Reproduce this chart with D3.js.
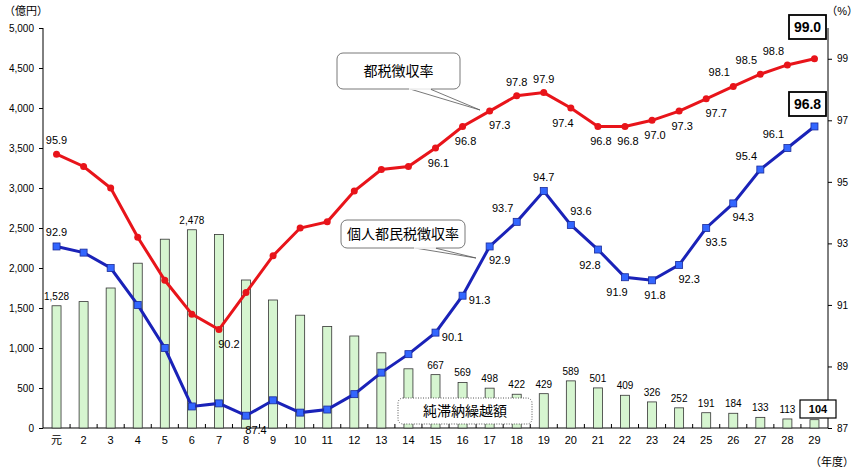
<!DOCTYPE html><html><head><meta charset="utf-8"><script src="https://cdn.jsdelivr.net/npm/d3@7"></script>
<style>body{margin:0;background:#fff}text{font-family:"Liberation Sans","Noto Sans CJK JP",sans-serif}</style></head><body><svg id="c" width="862" height="476"></svg>
<script>
const years=["元","2","3","4","5","6","7","8","9","10","11","12","13","14","15","16","17","18","19","20","21","22","23","24","25","26","27","28","29"];
const arrears=[1528,1580,1750,2060,2360,2478,2420,1850,1600,1410,1270,1150,940,740,667,569,498,422,429,589,501,409,326,252,191,184,133,113,104];
const metroRate=[95.9,95.5,94.8,93.2,91.8,90.7,90.2,91.4,92.6,93.5,93.7,94.7,95.4,95.5,96.1,96.8,97.3,97.8,97.9,97.4,96.8,96.8,97.0,97.3,97.7,98.1,98.5,98.8,99.0];
const residentRate=[92.9,92.7,92.2,91.0,89.6,87.7,87.8,87.4,87.9,87.5,87.6,88.1,88.8,89.4,90.1,91.3,92.9,93.7,94.7,93.6,92.8,91.9,91.8,92.3,93.5,94.3,95.4,96.1,96.8];
const leftTicks=[0,500,1000,1500,2000,2500,3000,3500,4000,4500,5000];
const rightTicks=[87,89,91,93,95,97,99];
const barLabelIdx=[0,5,14,15,16,17,18,19,20,21,22,23,24,25,26,27];
const metroLabelPos={0:"a",6:"br",14:"b",15:"b",16:"br",17:"a",18:"a",19:"bl",20:"b",21:"b",22:"b",23:"b",24:"br",25:"al",26:"al",27:"al"};
const residentLabelPos={0:"a",7:"br",14:"r",15:"r",16:"br",17:"al",18:"a",19:"ar",20:"bl",21:"bl",22:"b",23:"br",24:"br",25:"br",26:"al",27:"al"};

const svg=d3.select("#c");
const x=d3.scaleBand().domain(years).range([43,828]);
const yL=d3.scaleLinear().domain([0,5000]).range([428,28]);
const yR=d3.scaleLinear().domain([87,100]).range([428,28]);
const cx=i=>x(years[i])+x.bandwidth()/2;

svg.append("g").attr("transform","translate(43,0)").call(d3.axisLeft(yL).tickValues(leftTicks).tickFormat(d3.format(",")).tickSize(4))
 .call(g=>{g.select(".domain").attr("d","M0,28V428");g.selectAll("text").attr("x",-9).style("font-size","10px");});
svg.append("g").attr("transform","translate(828,0)").call(d3.axisRight(yR).tickValues(rightTicks).tickSize(4))
 .call(g=>{g.select(".domain").attr("d","M0,28V428");g.selectAll("text").attr("x",9).style("font-size","10px");});
svg.append("g").attr("transform","translate(0,428)").call(d3.axisBottom(x).tickSize(0))
 .call(g=>{g.select(".domain").attr("d","M43,0H828");g.selectAll("text").attr("dy","1.2em").style("font-size","11px");});
svg.append("g").selectAll("line").data(years.slice(1)).join("line").attr("x1",d=>x(d)).attr("x2",d=>x(d)).attr("y1",428).attr("y2",424).attr("stroke","#000");
svg.append("text").attr("x",4).attr("y",15).text("（億円）").style("font-size","11px");
svg.append("text").attr("x",858).attr("y",15).attr("text-anchor","end").text("（%）").style("font-size","11px");
svg.append("text").attr("x",810).attr("y",466).text("（年度）").style("font-size","11px");

svg.append("g").selectAll("rect").data(arrears).join("rect")
 .attr("x",(d,i)=>cx(i)-4.5).attr("width",9).attr("y",d=>yL(d)).attr("height",d=>428-yL(d))
 .attr("fill","#d6f5d0").attr("stroke","#333").attr("stroke-width",0.8);
svg.append("g").selectAll("text").data(barLabelIdx).join("text")
 .attr("x",i=>cx(i)).attr("y",i=>yL(arrears[i])-6).attr("text-anchor","middle").style("font-size","10px")
 .text(i=>d3.format(",")(arrears[i]));
svg.append("rect").attr("x",800).attr("y",400).attr("width",36).attr("height",18).attr("fill","#fff").attr("stroke","#000").attr("stroke-width",1.2);
svg.append("text").attr("x",818).attr("y",413).attr("text-anchor","middle").style("font-size","11px").style("font-weight","bold").text(arrears[28]);

function series(vals,color,shape,pos,boxY){
 const line=d3.line().x((d,i)=>cx(i)).y(d=>yR(d));
 svg.append("path").datum(vals).attr("d",line).attr("fill","none").attr("stroke",color).attr("stroke-width",3);
 const g=svg.append("g");
 if(shape==="c") g.selectAll("circle").data(vals).join("circle").attr("cx",(d,i)=>cx(i)).attr("cy",d=>yR(d)).attr("r",3.5).attr("fill",color);
 else g.selectAll("rect").data(vals).join("rect").attr("x",(d,i)=>cx(i)-3.5).attr("y",d=>yR(d)-3.5).attr("width",7).attr("height",7).attr("fill","#3366ff").attr("stroke","#1a2a99").attr("stroke-width",0.8);
 const off={a:[0,-10],b:[3,19],br:[10,18],bl:[-8,19],al:[-14,-10],ar:[10,-10],r:[17,8]};
 svg.append("g").selectAll("text").data(Object.keys(pos).map(Number)).join("text")
  .attr("x",i=>cx(i)+off[pos[i]][0]).attr("y",i=>yR(vals[i])+off[pos[i]][1]).attr("text-anchor","middle").style("font-size","11px")
  .text(i=>vals[i].toFixed(1));
 const last=vals.length-1;
 svg.append("rect").attr("x",789).attr("y",boxY).attr("width",37).attr("height",24).attr("fill","#fff").attr("stroke","#000").attr("stroke-width",1.8);
 svg.append("text").attr("x",807.5).attr("y",boxY+17).attr("text-anchor","middle").style("font-size","14px").style("font-weight","bold").text(vals[last].toFixed(1));
}
series(metroRate,"#e8141a","c",metroLabelPos,15);
series(residentRate,"#1a22b8","s",residentLabelPos,92);

function callout(x0,y0,w,h,tx,ty,label,dash){
 const g=svg.append("g");
 g.append("path").attr("d",`M${x0+w-50},${y0+h} L${tx},${ty} L${x0+w-30},${y0+h}`).attr("fill","#fff").attr("stroke","#555").attr("stroke-width",0.8);
 g.append("rect").attr("x",x0).attr("y",y0).attr("width",w).attr("height",h).attr("rx",6).attr("fill","#fff").attr("stroke","#555").attr("stroke-width",0.8).attr("stroke-dasharray",dash||null);
 g.append("path").attr("d",`M${x0+w-51},${y0+h} L${x0+w-29},${y0+h}`).attr("stroke","#fff").attr("stroke-width",1.6);
 g.append("text").attr("x",x0+w/2).attr("y",y0+h/2+5).attr("text-anchor","middle").style("font-size","14px").text(label);
}
callout(337,53,123,36,480,110,"都税徴収率");
callout(341,220,124,28,476,258,"個人都民税徴収率");
svg.append("rect").attr("x",398).attr("y",398).attr("width",134).attr("height",26).attr("rx",5).attr("fill","#fff").attr("stroke","#555").attr("stroke-dasharray","1,1.5");
svg.append("text").attr("x",465).attr("y",416).attr("text-anchor","middle").style("font-size","14px").text("純滞納繰越額");
</script></body></html>
